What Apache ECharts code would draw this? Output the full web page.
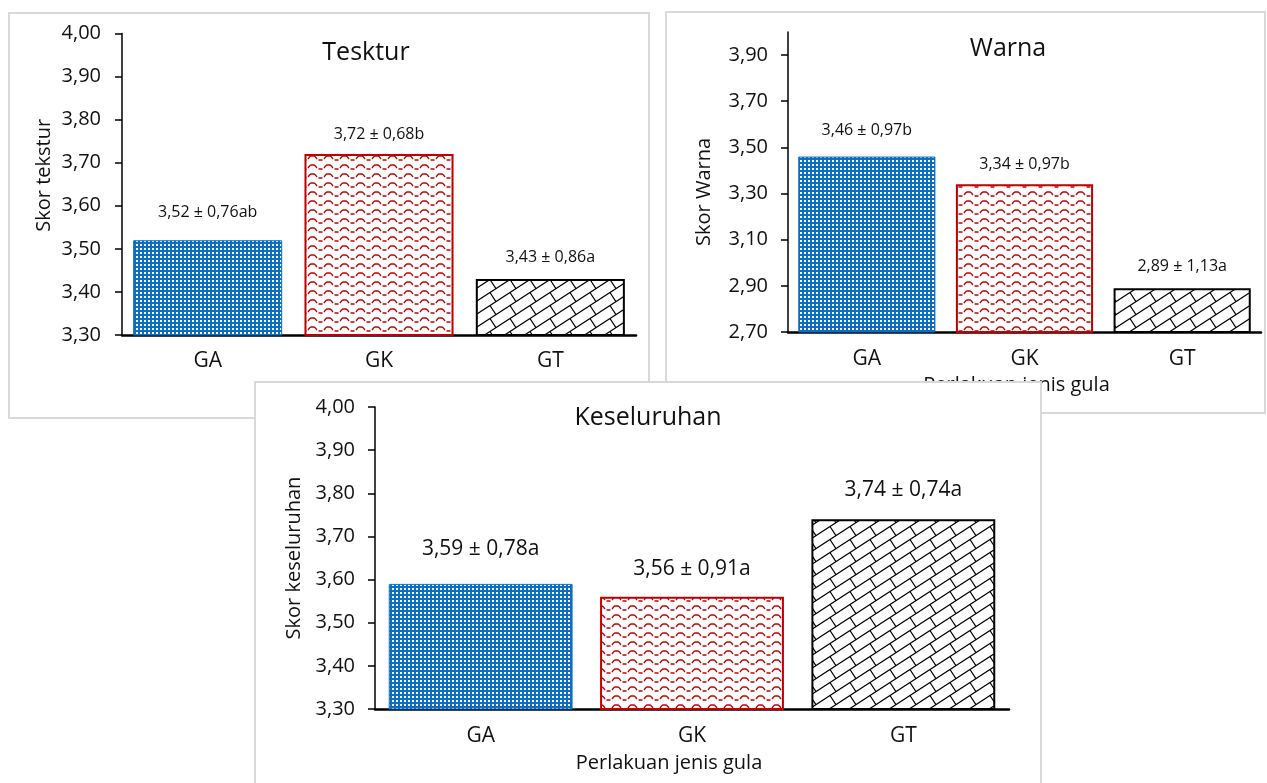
<!DOCTYPE html>
<html>
<head>
<meta charset="utf-8">
<script src="https://cdn.jsdelivr.net/npm/echarts@6/dist/echarts.min.js"></script>
<style>
  html, body { margin: 0; padding: 0; background: #fff; width: 1267px; height: 783px; overflow: hidden; }
  .layer { position: absolute; left: 0; top: 0; width: 1267px; height: 783px; }
</style>
</head>
<body>
<div id="c1" class="layer" style="z-index:1"></div>
<div id="c2" class="layer" style="z-index:2"></div>
<div id="c3" class="layer" style="z-index:3"></div>
<script>
// Sugar treatments
const categories = ['GA', 'GK', 'GT'];

// Tekstur scores (mean, SD, notation letters)
const teksturMean = [3.52, 3.72, 3.43];
const teksturSd = [0.76, 0.68, 0.86];
const teksturNotasi = ['ab', 'b', 'a'];
const teksturTicks = [3.3, 3.4, 3.5, 3.6, 3.7, 3.8, 3.9, 4.0];

// Warna scores
const warnaMean = [3.46, 3.34, 2.89];
const warnaSd = [0.97, 0.97, 1.13];
const warnaNotasi = ['b', 'b', 'a'];
const warnaTicks = [2.7, 2.9, 3.1, 3.3, 3.5, 3.7, 3.9];

// Keseluruhan scores
const keseluruhanMean = [3.59, 3.56, 3.74];
const keseluruhanSd = [0.78, 0.91, 0.74];
const keseluruhanNotasi = ['a', 'a', 'a'];
const keseluruhanTicks = [3.3, 3.4, 3.5, 3.6, 3.7, 3.8, 3.9, 4.0];

const FONT = '"Open Sans", "Noto Sans", sans-serif';
const INK = '#111';

function comma(v) { return v.toFixed(2).replace('.', ','); }

// ---- fill patterns ----
function tile(w, h, draw) {
  const cv = document.createElement('canvas');
  cv.width = w; cv.height = h;
  draw(cv.getContext('2d'), w, h);
  return { image: cv, repeat: 'repeat' };
}

// blue with small white dots
const dotFill = tile(4, 4, (ctx) => {
  ctx.fillStyle = '#0a6fc2';
  ctx.fillRect(0, 0, 4, 4);
  ctx.fillStyle = '#ffffff';
  ctx.fillRect(0, 0, 2, 2);
});

// red waves on white
const waveFill = tile(16, 9, (ctx, w, h) => {
  ctx.fillStyle = '#ffffff';
  ctx.fillRect(0, 0, w, h);
  ctx.strokeStyle = '#c00000';
  ctx.lineWidth = 1.3;
  ctx.beginPath();
  ctx.moveTo(4, 6); ctx.lineTo(5.5, 4); ctx.lineTo(7, 3); ctx.lineTo(10, 3);
  ctx.lineTo(11.5, 4); ctx.lineTo(13, 6);
  ctx.stroke();
  ctx.beginPath();
  ctx.moveTo(14.5, 7); ctx.lineTo(16, 7);
  ctx.moveTo(0, 7); ctx.lineTo(2.5, 7);
  ctx.stroke();
});

// black diagonal bricks on white
const brickFill = tile(20, 13, (ctx, W, H) => {
  ctx.fillStyle = '#ffffff';
  ctx.fillRect(0, 0, W, H);
  ctx.strokeStyle = '#000';
  ctx.lineWidth = 1.2;
  const t = H * W / (W * W + H * H);
  for (let ox = -W; ox <= W; ox += W) {
    for (let oy = -H; oy <= H; oy += H) {
      ctx.beginPath();
      ctx.moveTo(ox + 0, oy + H);
      ctx.lineTo(ox + W, oy + 0);
      ctx.moveTo(ox + W / 2, oy + H / 2);
      ctx.lineTo(ox + W / 2 + t * H, oy + H / 2 + t * W);
      ctx.stroke();
    }
  }
});

const barStyles = [
  { color: dotFill, borderColor: '#0a6fc2', borderWidth: 1 },
  { color: waveFill, borderColor: '#c00000', borderWidth: 2 },
  { color: brickFill, borderColor: '#000000', borderWidth: 2 }
];

function buildOption(c) {
  const h = c.axisBottom - c.axisTop;
  const xAxis = {
    type: 'category',
    data: categories,
    axisLine: { lineStyle: { color: '#000', width: 2.5 } },
    axisTick: { show: false },
    axisLabel: { fontFamily: FONT, fontSize: 21, color: INK, margin: c.xMargin }
  };
  if (c.xName) {
    Object.assign(xAxis, {
      name: c.xName, nameLocation: 'middle', nameGap: c.xNameGap,
      nameTextStyle: { fontFamily: FONT, fontSize: 20, color: INK, padding: c.xNamePad || 0 }
    });
  }
  return {
    animation: false,
    backgroundColor: 'transparent',
    textStyle: { fontFamily: FONT },
    graphic: [
      { type: 'rect', z: -10, shape: { x: c.box[0], y: c.box[1], width: c.box[2], height: c.box[3] },
        style: { fill: '#fff', stroke: '#d9d9d9', lineWidth: 2 } },
      { type: 'text', z: 10, x: c.titlePos[0], y: c.titlePos[1],
        style: { text: c.title, fontFamily: FONT, fontSize: 25, fill: INK, textAlign: 'center', textVerticalAlign: 'middle' } }
    ],
    grid: { left: c.axisLeft, top: c.axisTop, width: c.axisRight - c.axisLeft, height: h },
    xAxis: xAxis,
    yAxis: {
      type: 'value', min: c.min, max: c.max,
      name: c.yName, nameLocation: 'middle', nameRotate: 90, nameGap: c.yNameGap,
      nameTextStyle: { fontFamily: FONT, fontSize: 20, color: INK, padding: c.yNamePad || 0 },
      axisLine: { show: true, lineStyle: { color: '#000', width: 1.5 } },
      axisTick: { show: true, length: 7, lineStyle: { color: '#000', width: 1.5 }, customValues: c.ticks },
      axisLabel: { customValues: c.ticks, formatter: comma, fontFamily: FONT, fontSize: 20, color: INK, margin: c.yMargin },
      splitLine: { show: false }
    },
    series: [{
      type: 'bar',
      barCategoryGap: '13%',
      data: c.mean.map((v, i) => ({ value: v, itemStyle: barStyles[i], label: { distance: c.labelGap[i] } })),
      label: {
        show: true, position: 'top',
        fontFamily: FONT, fontSize: c.labelSize, color: INK,
        formatter: (p) => comma(c.mean[p.dataIndex]) + ' ± ' + comma(c.sd[p.dataIndex]) + c.notasi[p.dataIndex]
      }
    }]
  };
}

const charts = [
  {
    el: 'c1', title: 'Tesktur', titlePos: [366, 53],
    box: [9, 13, 640, 405],
    axisLeft: 122, axisRight: 636, axisTop: 33.5, axisBottom: 335,
    min: 3.3, max: 4.0, ticks: teksturTicks,
    mean: teksturMean, sd: teksturSd, notasi: teksturNotasi,
    yName: 'Skor tekstur', yNameGap: 68, yNamePad: [0, 0, 0, 18],
    yMargin: 21, xMargin: 16, labelSize: 16, labelGap: [20, 12, 14]
  },
  {
    el: 'c2', title: 'Warna', titlePos: [1008, 49],
    box: [666, 12, 599, 401],
    axisLeft: 788, axisRight: 1261, axisTop: 31.9, axisBottom: 332,
    min: 2.7, max: 4.0, ticks: warnaTicks,
    mean: warnaMean, sd: warnaSd, notasi: warnaNotasi,
    yName: 'Skor Warna', yNameGap: 74, yNamePad: [0, 20, 0, 0],
    xName: 'Perlakuan jenis gula', xNameGap: 43, xNamePad: [0, 16, 0, 0],
    yMargin: 20, xMargin: 17, labelSize: 16, labelGap: [18, 12, 14]
  },
  {
    el: 'c3', title: 'Keseluruhan', titlePos: [648, 418],
    box: [255, 382, 786, 410],
    axisLeft: 375, axisRight: 1009, axisTop: 407, axisBottom: 709,
    min: 3.3, max: 4.0, ticks: keseluruhanTicks,
    mean: keseluruhanMean, sd: keseluruhanSd, notasi: keseluruhanNotasi,
    yName: 'Skor keseluruhan', yNameGap: 67,
    xName: 'Perlakuan jenis gula', xNameGap: 44, xNamePad: [0, 46, 0, 0],
    yMargin: 20, xMargin: 17, labelSize: 21, labelGap: [24, 17, 19]
  }
];

charts.forEach((c) => {
  const chart = echarts.init(document.getElementById(c.el), null, { renderer: 'canvas' });
  chart.setOption(buildOption(c));
});
</script>
</body>
</html>
